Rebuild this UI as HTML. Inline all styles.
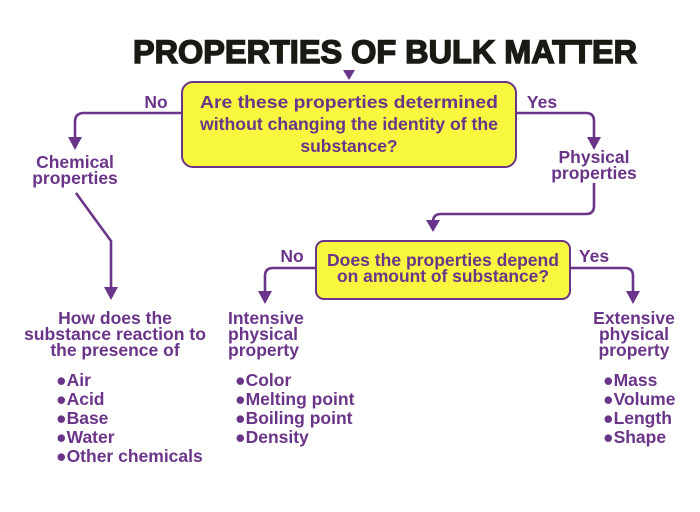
<!DOCTYPE html>
<html><head><meta charset="utf-8"><style>
html,body{margin:0;padding:0;background:#fff;}
svg{display:block}
text{font-family:"Liberation Sans",sans-serif;font-weight:bold;fill:#6a3589;}
</style></head><body>
<svg width="700" height="512" viewBox="0 0 700 512" xmlns="http://www.w3.org/2000/svg">
<text x="133" y="63" style="fill:#1a1a14;font-size:32px;font-weight:900;stroke:#1a1a14;stroke-width:1.4" textLength="504" lengthAdjust="spacingAndGlyphs">PROPERTIES OF BULK MATTER</text>
<g fill="none" stroke="#6a3589" stroke-width="2.6">
<path d="M182 113 H84 Q75 113 75 122 V138"/>
<path d="M516 113 H586 Q594 113 594 121 V138"/>
<path d="M594 183 V206 Q594 214 586 214 H441 Q433 214 433 222 V222"/>
<path d="M76 193 L111 241 V289"/>
<path d="M316 268 H273 Q265 268 265 276 V292"/>
<path d="M570 268 H625 Q633 268 633 276 V292"/>
</g>
<g fill="#6a3589">
<path d="M343 70 H355 L349 80 Z"/>
<path d="M68 137 H82 L75 150 Z"/>
<path d="M587 137 H601 L594 150 Z"/>
<path d="M426 220 H440 L433 232 Z"/>
<path d="M104 287 H118 L111 300 Z"/>
<path d="M258 291 H272 L265 304 Z"/>
<path d="M626 291 H640 L633 304 Z"/>
</g>
<rect x="182" y="82" width="334" height="85" rx="11" fill="#f6f73e" stroke="#6a3589" stroke-width="2"/>
<rect x="316" y="241" width="254" height="58" rx="8" fill="#f6f73e" stroke="#6a3589" stroke-width="2"/>
<g font-size="17.5" text-anchor="middle">
<text x="349" y="108" textLength="298" lengthAdjust="spacingAndGlyphs">Are these properties determined</text>
<text x="349" y="130" textLength="298" lengthAdjust="spacingAndGlyphs">without changing the identity of the</text>
<text x="349" y="152">substance?</text>
<text x="443" y="266" textLength="232" lengthAdjust="spacingAndGlyphs">Does the properties depend</text>
<text x="443" y="282" textLength="212" lengthAdjust="spacingAndGlyphs">on amount of substance?</text>
<text x="156" y="108">No</text>
<text x="542" y="108">Yes</text>
<text x="292" y="262">No</text>
<text x="594" y="262">Yes</text>
<text x="75" y="168">Chemical</text>
<text x="75" y="184">properties</text>
<text x="594" y="163">Physical</text>
<text x="594" y="179">properties</text>
<text x="115" y="324">How does the</text>
<text x="115" y="340" textLength="182" lengthAdjust="spacingAndGlyphs">substance reaction to</text>
<text x="115" y="356">the presence of</text>
<text x="634" y="324">Extensive</text>
<text x="634" y="340">physical</text>
<text x="634" y="356">property</text>
</g>
<g font-size="17.5">
<text x="228" y="324">Intensive</text>
<text x="228" y="340">physical</text>
<text x="228" y="356">property</text>
</g>
<g font-size="17.5">
<text x="56" y="386">●Air</text>
<text x="56" y="405">●Acid</text>
<text x="56" y="424">●Base</text>
<text x="56" y="443">●Water</text>
<text x="56" y="462">●Other chemicals</text>
<text x="235" y="386">●Color</text>
<text x="235" y="405">●Melting point</text>
<text x="235" y="424">●Boiling point</text>
<text x="235" y="443">●Density</text>
<text x="603" y="386">●Mass</text>
<text x="603" y="405">●Volume</text>
<text x="603" y="424">●Length</text>
<text x="603" y="443">●Shape</text>
</g>
</svg>
</body></html>
